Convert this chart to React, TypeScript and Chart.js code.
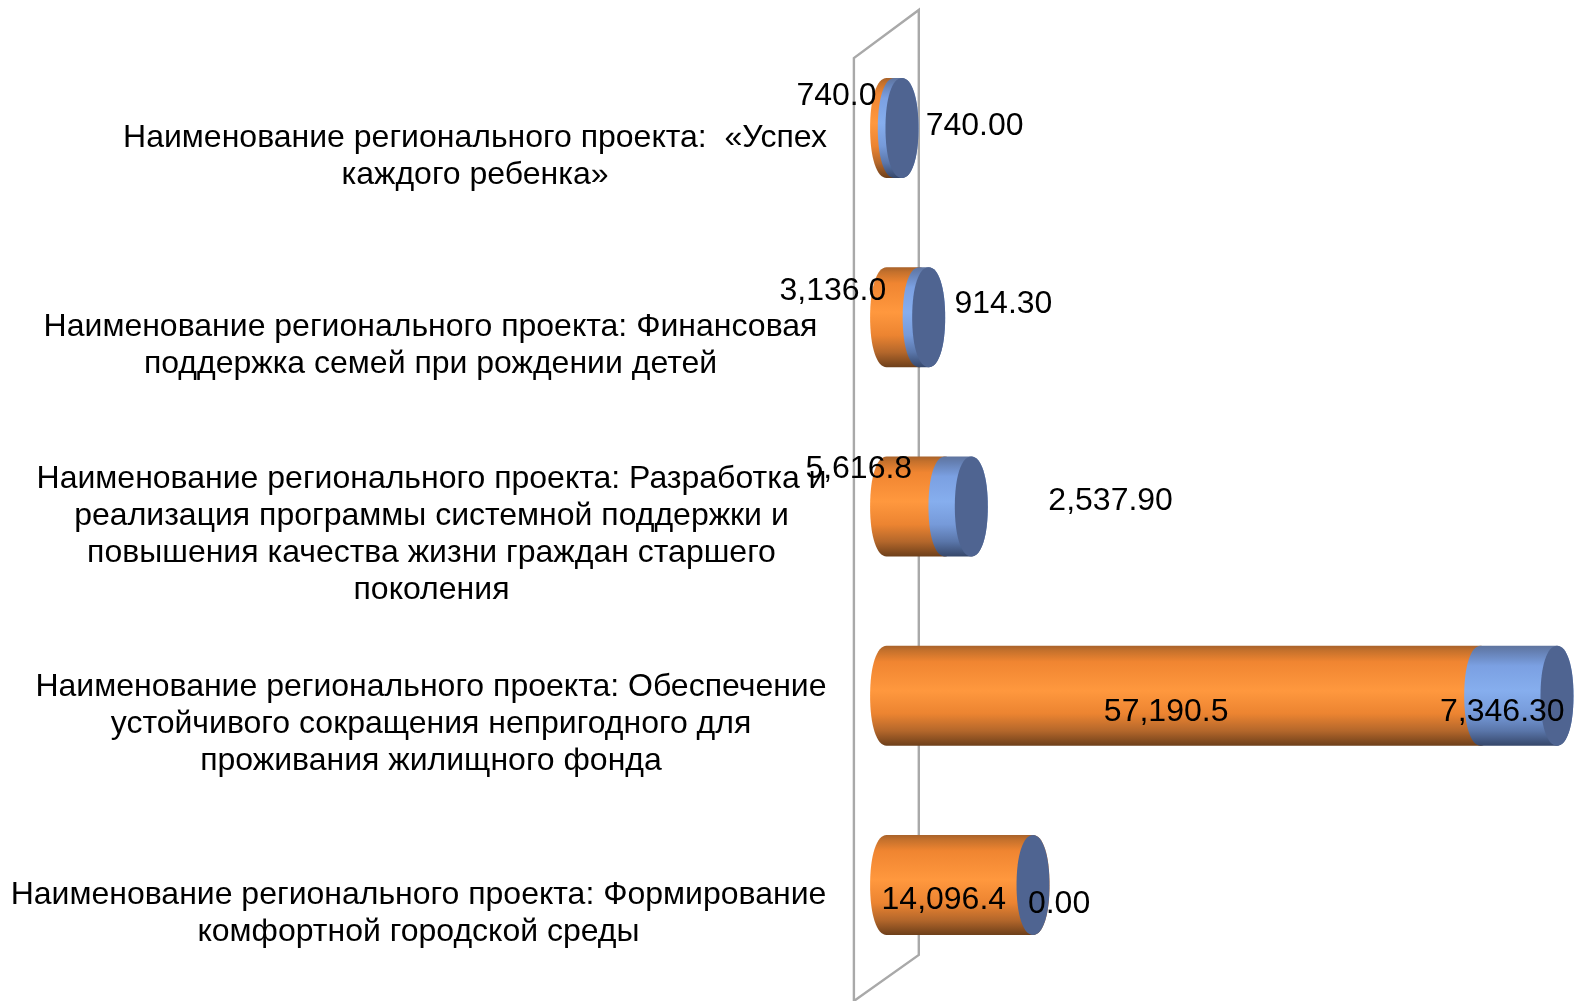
import React, { useEffect, useRef } from "react";
import { Chart, registerables } from "chart.js";

Chart.register(...registerables);

const categories: string[][] = [
  ["Наименование регионального проекта:  «Успех", "каждого ребенка»"],
  ["Наименование регионального проекта: Финансовая", "поддержка семей при рождении детей"],
  ["Наименование регионального проекта: Разработка и", "реализация программы системной поддержки и", "повышения качества жизни граждан старшего", "поколения"],
  ["Наименование регионального проекта: Обеспечение", "устойчивого сокращения непригодного для", "проживания жилищного фонда"],
  ["Наименование регионального проекта: Формирование", "комфортной городской среды"],
];
const orangeValues = [740.0, 3136.0, 5616.8, 57190.5, 14096.4];
const blueValues = [740.0, 914.3, 2537.9, 7346.3, 0.0];

// Manual label placement, as offsets from the centre of each bar segment
const orangeLabelOffsets = [[-54, -31.5], [-70, -26], [-57, -37.5], [-17.5, 16.5], [-16, 15.5]];
const blueLabelOffsets = [[76.5, -1.5], [79.5, -13.5], [152.5, -5.5], [-16.5, 16.5], [26, 19.5]];
const categoryLabelCentres = [475, 430.5, 431.5, 431, 418.5];

const FONT = '32px "Liberation Sans", Arial, sans-serif';
const LINE = 37.1;
const CAP_RX = 16.5;
const K = 0.6; // end caps are slightly fuller than a true ellipse

function gradient(ctx: CanvasRenderingContext2D, top: number, bottom: number, stops: [number, string][]) {
  const g = ctx.createLinearGradient(0, top, 0, bottom);
  stops.forEach(([o, c]) => g.addColorStop(o, c));
  return g;
}
const ORANGE: [number, string][] = [[0, "#a8622a"], [0.05, "#c5712c"], [0.16, "#f08531"], [0.45, "#ff983e"], [0.68, "#ec8431"], [0.85, "#b4672b"], [1, "#6d3f1a"]];
const BLUE: [number, string][] = [[0, "#5f749e"], [0.06, "#6580b3"], [0.2, "#7ba0e2"], [0.45, "#86aeee"], [0.68, "#769ad9"], [0.85, "#5a76aa"], [1, "#36476a"]];

function segment(ctx: CanvasRenderingContext2D, x0: number, x1: number, cy: number, ry: number, fill: CanvasGradient) {
  if (x1 - x0 <= 0) return;
  const rx = CAP_RX;
  const top = cy - ry;
  const bot = cy + ry;
  ctx.beginPath();
  ctx.moveTo(x0, bot);
  ctx.bezierCurveTo(x0 - K * rx, bot, x0 - rx, cy + K * ry, x0 - rx, cy);
  ctx.bezierCurveTo(x0 - rx, cy - K * ry, x0 - K * rx, top, x0, top);
  ctx.lineTo(x1, top);
  ctx.bezierCurveTo(x1 + K * rx, top, x1 + rx, cy - K * ry, x1 + rx, cy);
  ctx.bezierCurveTo(x1 + rx, cy + K * ry, x1 + K * rx, bot, x1, bot);
  ctx.closePath();
  ctx.fillStyle = fill;
  ctx.fill();
}

function cap(ctx: CanvasRenderingContext2D, x: number, cy: number, ry: number) {
  const rx = CAP_RX;
  const top = cy - ry;
  const bot = cy + ry;
  ctx.beginPath();
  ctx.moveTo(x, bot);
  ctx.bezierCurveTo(x - K * rx, bot, x - rx, cy + K * ry, x - rx, cy);
  ctx.bezierCurveTo(x - rx, cy - K * ry, x - K * rx, top, x, top);
  ctx.bezierCurveTo(x + K * rx, top, x + rx, cy - K * ry, x + rx, cy);
  ctx.bezierCurveTo(x + rx, cy + K * ry, x + K * rx, bot, x, bot);
  ctx.closePath();
  ctx.fillStyle = "#4f6491";
  ctx.fill();
}

const cylinderPlugin = {
  id: "cylinder",
  beforeDatasetsDraw(chart: any) {
    const { ctx, scales } = chart;
    const zero = scales.x.getPixelForValue(0);
    // back wall of the 3-D plot
    ctx.save();
    ctx.strokeStyle = "#a9a9a9";
    ctx.lineWidth = 2.4;
    ctx.lineJoin = "miter";
    ctx.beginPath();
    ctx.moveTo(zero - 32.7, 1003);
    ctx.lineTo(zero - 32.7, 58);
    ctx.lineTo(zero + 32.2, 10);
    ctx.lineTo(zero + 32.2, 955);
    ctx.lineTo(zero - 32.7, 1001);
    ctx.stroke();
    ctx.restore();

    const orange = chart.getDatasetMeta(0).data;
    const blue = chart.getDatasetMeta(1).data;
    ctx.save();
    orange.forEach((bar: any, i: number) => {
      const b = blue[i];
      const ry = bar.height / 2;
      const top = bar.y - ry;
      const bottom = bar.y + ry;
      segment(ctx, bar.base, bar.x, bar.y, ry, gradient(ctx, top, bottom, ORANGE));
      segment(ctx, b.base, b.x, b.y, ry, gradient(ctx, top, bottom, BLUE));
      cap(ctx, b.x, b.y, ry);
    });
    ctx.restore();
    return false;
  },
  afterDraw(chart: any) {
    const { ctx, scales } = chart;
    ctx.save();
    ctx.font = FONT;
    ctx.fillStyle = "#000000";
    ctx.textAlign = "center";
    ctx.textBaseline = "middle";
    const labels = chart.data.labels as string[][];
    labels.forEach((lines, i) => {
      const cy = scales.y.getPixelForValue(i) + 28.5;
      lines.forEach((line, k) => {
        ctx.fillText(line, categoryLabelCentres[i], cy + (k - (lines.length - 1) / 2) * LINE);
      });
    });
    chart.data.datasets.forEach((ds: any, d: number) => {
      const offsets = d === 0 ? orangeLabelOffsets : blueLabelOffsets;
      const digits = d === 0 ? 1 : 2;
      chart.getDatasetMeta(d).data.forEach((bar: any, i: number) => {
        const text = (ds.data[i] as number).toLocaleString("en-US", { minimumFractionDigits: digits, maximumFractionDigits: digits });
        ctx.fillText(text, (bar.base + bar.x) / 2 + offsets[i][0], bar.y + offsets[i][1]);
      });
    });
    ctx.restore();
  },
};

export default function App() {
  const ref = useRef<HTMLCanvasElement>(null);
  useEffect(() => {
    const chart = new Chart(ref.current!, {
      type: "bar",
      data: {
        labels: categories as any,
        datasets: [
          { label: "Ряд 1", data: orangeValues, backgroundColor: "#f79646", barThickness: 100 },
          { label: "Ряд 2", data: blueValues, backgroundColor: "#7ba0e2", barThickness: 100 },
        ],
      },
      options: {
        indexAxis: "y",
        responsive: false,
        animation: false,
        layout: { padding: { left: 886.6, right: 6.8, top: 33.4, bottom: 21.4 } },
        plugins: { legend: { display: false }, tooltip: { enabled: false } },
        scales: {
          x: { stacked: true, display: false, min: 0, max: 66000 },
          y: { stacked: true, display: false },
        },
      },
      plugins: [cylinderPlugin],
    });
    return () => chart.destroy();
  }, []);
  return (
    <div style={{ position: "fixed", left: 0, top: 0, width: 1579, height: 1001, background: "#fff" }}>
      <canvas ref={ref} width={1579} height={1001} style={{ display: "block" }} />
    </div>
  );
}
